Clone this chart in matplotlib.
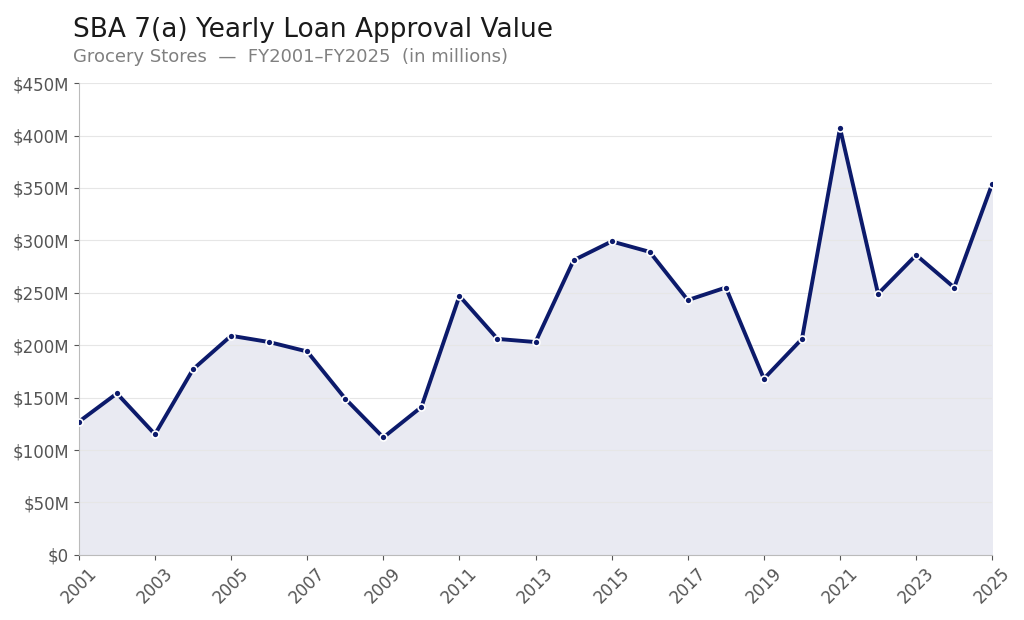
import matplotlib
matplotlib.use("Agg")
import matplotlib.pyplot as plt
from matplotlib.ticker import FuncFormatter, MultipleLocator

years = list(range(2001, 2026))
values = [127, 154, 115, 177, 209, 203, 194, 149, 112, 141, 247, 206, 203, 281, 299,
          289, 243, 255, 168, 206, 407, 249, 286, 255, 354]

fig = plt.figure(figsize=(10.24, 6.2), dpi=100)
ax = fig.add_axes([0.077, 0.105, 0.892, 0.761])
line_c = "#0c1a6b"
ax.fill_between(years, values, 0, color="#e9eaf2", zorder=1)
ax.plot(years, values, color=line_c, lw=2.8, zorder=3,
        marker="o", ms=5, mfc=line_c, mec="white", mew=1.2)
ax.set_xlim(2001, 2025)
ax.set_ylim(0, 450)
ax.yaxis.set_major_locator(MultipleLocator(50))
ax.yaxis.set_major_formatter(FuncFormatter(lambda v, p: f"${int(v)}M" if v else "$0"))
ax.set_xticks(years[::2])
ax.tick_params(axis="x", rotation=45, labelsize=12, colors="#555555")
ax.tick_params(axis="y", labelsize=12, colors="#555555")
ax.grid(axis="y", color="#e6e6e6", lw=0.8, zorder=0)
for s in ["top", "right"]:
    ax.spines[s].set_visible(False)
for s in ["left", "bottom"]:
    ax.spines[s].set_color("#bbbbbb")
fig.text(0.071, 0.94, "SBA 7(a) Yearly Loan Approval Value", fontsize=19, color="#1a1a1a")
fig.text(0.071, 0.9, "Grocery Stores  —  FY2001–FY2025  (in millions)", fontsize=13, color="#808080")
fig.savefig("out.png", dpi=100)
